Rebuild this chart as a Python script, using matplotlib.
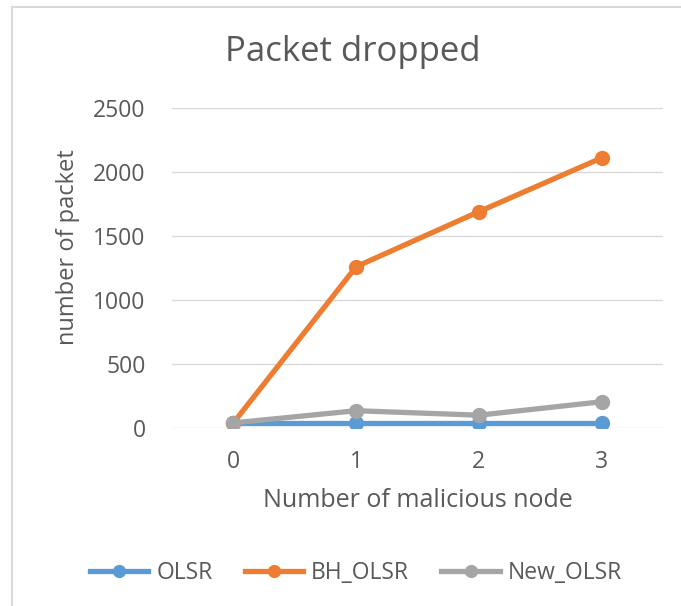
import matplotlib.pyplot as plt
from matplotlib.patches import Rectangle

nodes = [0, 1, 2, 3]
olsr = [40, 40, 40, 40]
bh_olsr = [40, 1260, 1690, 2110]
new_olsr = [40, 135, 100, 205]

txt = '#595959'
plt.rcParams['font.family'] = ['Open Sans', 'DejaVu Sans']

fig = plt.figure(figsize=(6.81, 6.06), dpi=100)
# chart frame
fig.patches.append(Rectangle((12 / 681, -0.1), 1.0, 1 - 7 / 606 + 0.1,
                             transform=fig.transFigure, fill=False,
                             edgecolor='#d9d9d9', linewidth=1.5))

ax = fig.add_axes([172 / 681, 1 - 428 / 606, 491 / 681, 320 / 606])
ax.plot(nodes, olsr, color='#5b9bd5', lw=3.8, marker='o', ms=10, label='OLSR')
ax.plot(nodes, bh_olsr, color='#ed7d31', lw=3.8, marker='o', ms=10, label='BH_OLSR')
ax.plot(nodes, new_olsr, color='#a5a5a5', lw=3.8, marker='o', ms=10, label='New_OLSR')

ax.set_xlim(-0.5, 3.5)
ax.set_ylim(0, 2500)
ax.set_yticks(range(0, 2501, 500))
ax.set_xticks(nodes)
ax.grid(axis='y', color='#d9d9d9', lw=1)
ax.set_axisbelow(True)
for s in ax.spines.values():
    s.set_visible(False)
ax.tick_params(length=0, labelsize=16.5, colors=txt)
ax.tick_params(axis='y', pad=19)
ax.tick_params(axis='x', pad=16)

fig.text(353 / 681, 1 - 52 / 606, 'Packet dropped', fontsize=25, color=txt,
         ha='center', va='center')
ax.set_xlabel('Number of malicious node', fontsize=18, color=txt, labelpad=10)
ax.set_ylabel('number of packet', fontsize=17, color=txt)
ax.yaxis.set_label_coords(-0.187, 0.566)

fig.legend(loc='center', bbox_to_anchor=(356 / 681, 1 - 573 / 606), ncol=3,
           frameon=False, fontsize=16.5, labelcolor=txt, handlelength=2.55,
           handletextpad=0.35, columnspacing=1.4, markerscale=0.85)

fig.savefig('out.png', dpi=100)
